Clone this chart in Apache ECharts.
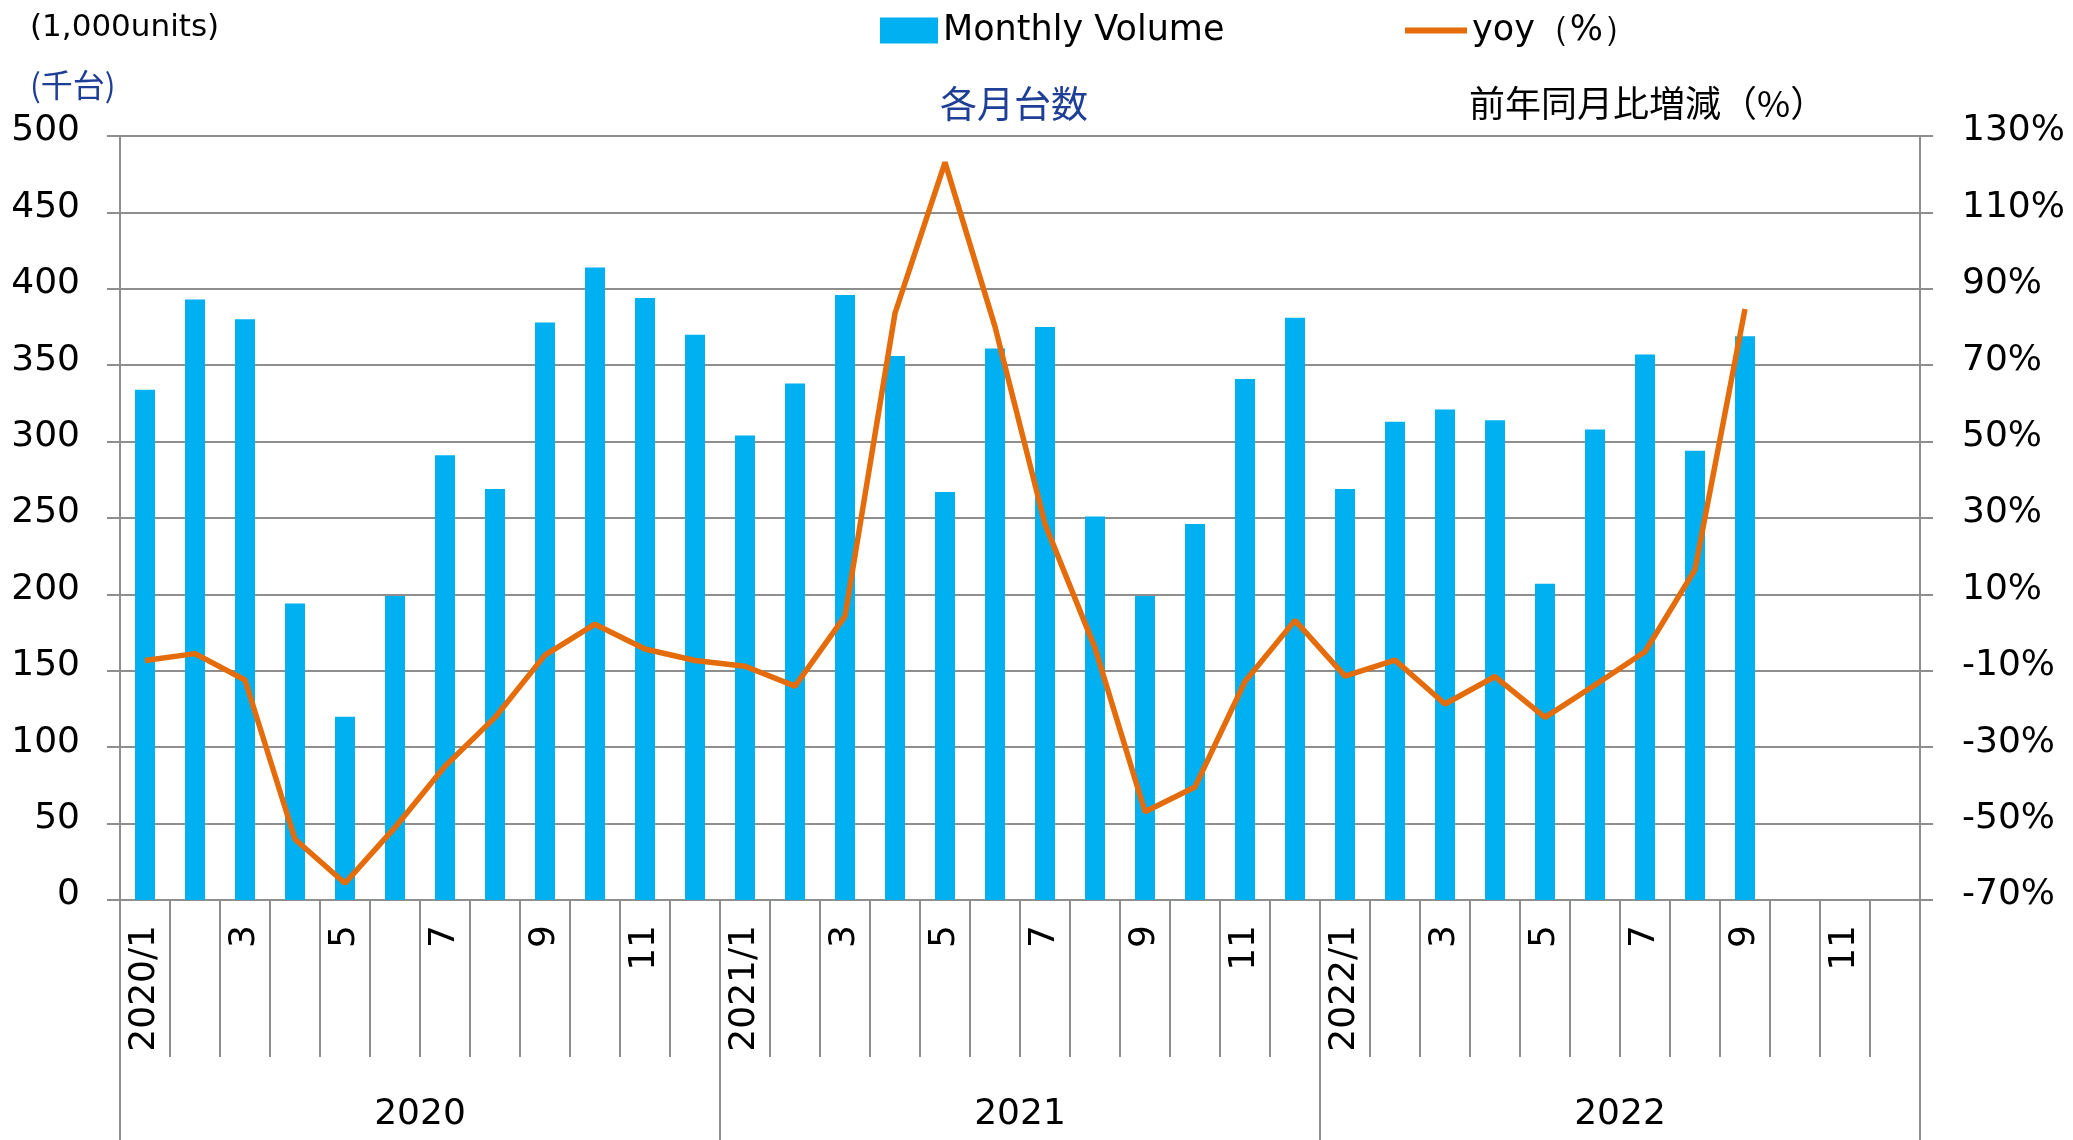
<!DOCTYPE html>
<html><head><meta charset="utf-8">
<script src="https://cdn.jsdelivr.net/npm/echarts@6/dist/echarts.min.js"></script>
<style>html,body{margin:0;padding:0;background:#fff}#c{width:2073px;height:1140px}</style>
</head><body><div id="c"></div>
<script>
const categories = [
  '2020/1','2020/2','2020/3','2020/4','2020/5','2020/6','2020/7','2020/8','2020/9','2020/10','2020/11','2020/12',
  '2021/1','2021/2','2021/3','2021/4','2021/5','2021/6','2021/7','2021/8','2021/9','2021/10','2021/11','2021/12',
  '2022/1','2022/2','2022/3','2022/4','2022/5','2022/6','2022/7','2022/8','2022/9','2022/10','2022/11','2022/12'
];
const volume = [
  334,393,380,194,120,199,291,269,378,414,394,370,
  304,338,396,356,267,361,375,251,199,246,341,381,
  269,313,321,314,207,308,357,294,369,null,null,null
];
const yoy = [
  -7.3,-5.5,-12.4,-54.1,-65.6,-51,-35,-22.2,-5.9,2.2,-4.3,-7.3,
  -8.8,-14,4.3,83.6,123.1,80.1,28.4,-4,-46.9,-40.4,-12.8,3.2,
  -11.4,-7.2,-18.7,-11.5,-22.2,-13.7,-5,16.5,84.7,null,null,null
];
const years = ['2020','2021','2022'];
const volumeAxis = {min: 0, max: 500, step: 50};
const yoyAxis = {min: -70, max: 130, step: 20};

const FONT = 'DejaVu Sans';
const CJK = '"Noto Sans CJK JP"';
const GRAY = '#8e8e8e';
const BLUE_TXT = '#1F3F96';

const chart = echarts.init(document.getElementById('c'));
chart.setOption({
  animation: false,
  textStyle: {fontFamily: FONT},
  grid: [
    {left: 120, top: 136, width: 1800, height: 764, containLabel: false},
    {left: 120, top: 899, width: 1800, height: 1, containLabel: false}
  ],
  legend: [
    {data: [{name: 'Monthly Volume', icon: 'rect'}], left: 875, top: 8, itemWidth: 58, itemHeight: 26, itemGap: 0,
     textStyle: {fontSize: 35, color: '#000', fontFamily: FONT, padding: [0,0,0,0]}},
    {data: [{name: 'yoy（%）', icon: 'rect'}], left: 1400, top: 8, itemWidth: 62, itemHeight: 6,
     textStyle: {fontSize: 35, color: '#000', fontFamily: FONT, padding: [0,0,0,0]},
     itemStyle: {color: '#E46C0A'}}
  ],
  xAxis: [
    {type: 'category', gridIndex: 0, data: categories, boundaryGap: true,
     axisLine: {show: true, lineStyle: {color: GRAY, width: 2}},
     axisTick: {show: true, interval: 0, length: 157, lineStyle: {color: GRAY, width: 2}},
     axisLabel: {interval: 1, rotate: 90, margin: 25, fontSize: 36, color: '#000', fontFamily: FONT,
       formatter: v => { const p = v.split('/'); return p[1] === '1' ? v : p[1]; }},
     splitLine: {show: false}},
    {type: 'category', gridIndex: 1, data: years, boundaryGap: true, position: 'bottom',
     axisLine: {show: false},
     axisTick: {show: true, interval: 0, length: 241, lineStyle: {color: GRAY, width: 2}},
     axisLabel: {interval: 0, margin: 197, fontSize: 36, color: '#000', fontFamily: FONT},
     splitLine: {show: false}}
  ],
  yAxis: [
    {type: 'value', gridIndex: 0, min: volumeAxis.min, max: volumeAxis.max, interval: volumeAxis.step, position: 'left',
     axisLine: {show: true, lineStyle: {color: GRAY, width: 2}},
     axisTick: {show: true, length: 13, lineStyle: {color: GRAY, width: 2}},
     axisLabel: {margin: 40, fontSize: 36, color: '#000', fontFamily: FONT, verticalAlign: 'bottom', lineHeight: 10},
     splitLine: {show: true, lineStyle: {color: GRAY, width: 2}}},
    {type: 'value', gridIndex: 0, min: yoyAxis.min, max: yoyAxis.max, interval: yoyAxis.step, position: 'right',
     axisLine: {show: true, lineStyle: {color: GRAY, width: 2}},
     axisTick: {show: true, length: 13, lineStyle: {color: GRAY, width: 2}},
     axisLabel: {margin: 42, fontSize: 36, color: '#000', fontFamily: FONT, verticalAlign: 'bottom', lineHeight: 10,
       formatter: v => v + '%'},
     splitLine: {show: false}},
    {type: 'value', gridIndex: 1, show: false}
  ],
  series: [
    {name: 'Monthly Volume', type: 'bar', xAxisIndex: 0, yAxisIndex: 0, data: volume,
     barWidth: 20, itemStyle: {color: '#00B0F0'}},
    {name: 'yoy（%）', type: 'line', xAxisIndex: 0, yAxisIndex: 1, data: yoy,
     symbol: 'none', lineStyle: {color: '#E46C0A', width: 5.5}, itemStyle: {color: '#E46C0A'}, z: 5}
  ],
  graphic: [
    {type: 'text', left: 30, top: 12, style: {text: '(1,000units)', font: '31px "DejaVu Sans"', fill: '#000'}},
    {type: 'text', left: 30, top: 69, style: {text: '(千台)', font: '32px ' + CJK + ', "DejaVu Sans"', fill: BLUE_TXT}},
    {type: 'text', left: 940, top: 85, style: {text: '各月台数', font: '37px ' + CJK, fill: BLUE_TXT}},
    {type: 'text', left: 1469, top: 85, style: {text: '前年同月比増減（%）', font: '36px ' + CJK, fill: '#000'}}
  ]
});
</script></body></html>
